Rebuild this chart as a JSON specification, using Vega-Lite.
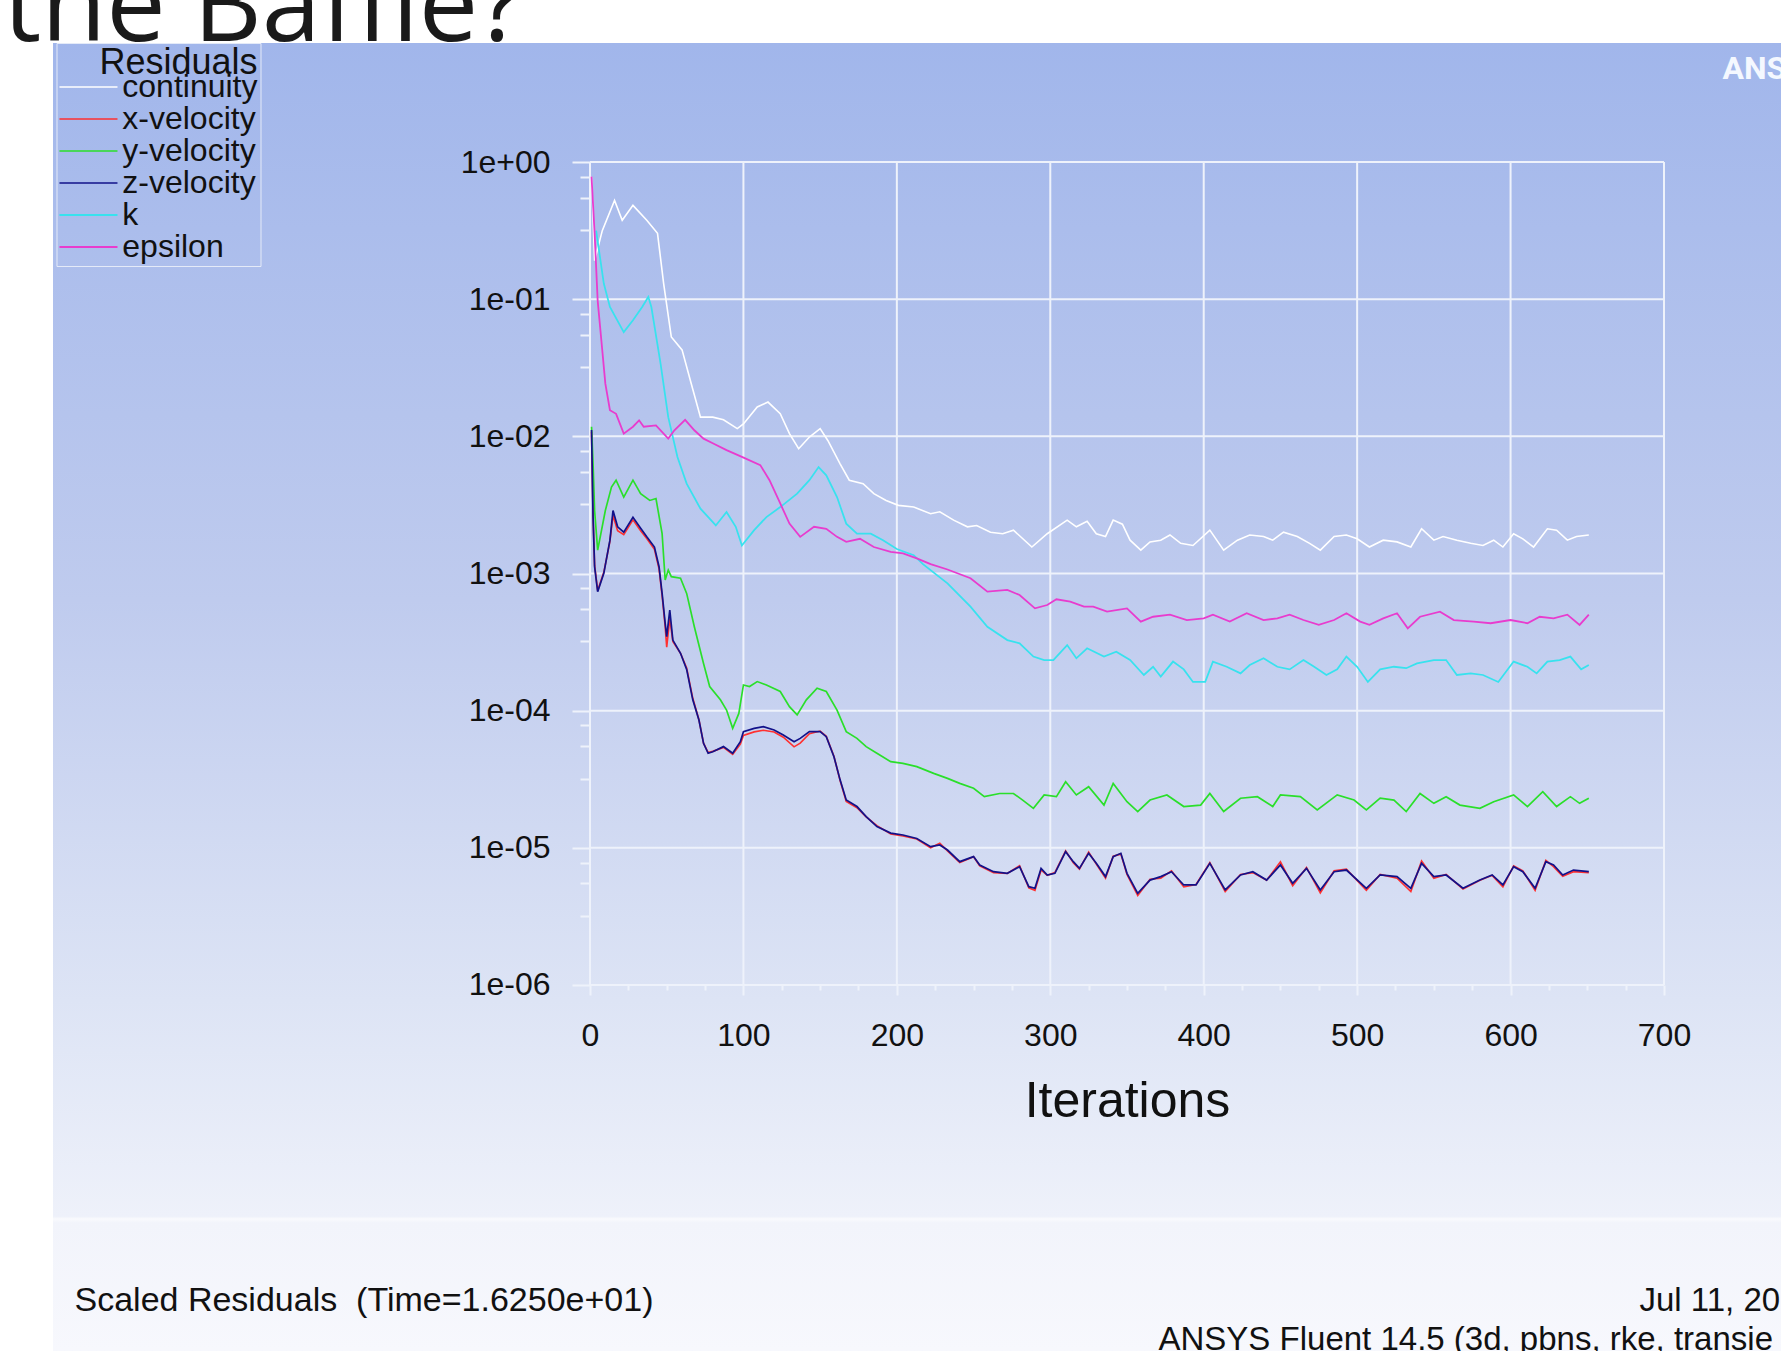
{
  "$schema": "https://vega.github.io/schema/vega-lite/v6.json",
  "autosize": {"type": "none"},
  "padding": {"left": 53, "top": 43, "right": 0, "bottom": 0},
  "width": 1728,
  "height": 1308,
  "background": "#ffffff",
  "view": {
    "stroke": null,
    "fill": {
      "gradient": "linear", "x1": 0, "y1": 0, "x2": 0, "y2": 1,
      "stops": [
        {"offset": 0, "color": "#a1b6eb"},
        {"offset": 0.426, "color": "#bfcbee"},
        {"offset": 0.732, "color": "#dde4f5"},
        {"offset": 0.897, "color": "#eef1fa"},
        {"offset": 0.899, "color": "#f9fafd"},
        {"offset": 0.902, "color": "#f2f4fb"},
        {"offset": 1, "color": "#f7f8fd"}
      ]
    }
  },
  "config": {
    "view": {"stroke": null},
    "axis": {"labelFont": "Liberation Sans", "titleFont": "Liberation Sans", "grid": false, "domain": false}
  },
  "resolve": {"scale": {"x": "shared", "y": "shared"}, "axis": {"x": "independent", "y": "independent"}},
  "layer": [
    {
      "data": {"values": [{"g": 0}, {"g": 100}, {"g": 200}, {"g": 300}, {"g": 400}, {"g": 500}, {"g": 600}, {"g": 700}]},
      "mark": {"type": "rule", "color": "#eef2fb", "strokeWidth": 2},
      "encoding": {
        "x": {"field": "g", "type": "quantitative",
          "scale": {"domain": [-350, 776.26], "nice": false, "zero": false},
          "axis": {"orient": "bottom", "offset": -366, "title": null, "labels": false, "ticks": true, "tickSize": 5, "tickWidth": 2, "tickColor": "#eef2fb",
            "values": [25, 50, 75, 125, 150, 175, 225, 250, 275, 325, 350, 375, 425, 450, 475, 525, 550, 575, 625, 650, 675]}},
        "y": {"datum": 0.000001, "type": "quantitative", "scale": {"type": "log", "domain": [2.146e-9, 7.374], "nice": false, "zero": false}, "axis": null},
        "y2": {"datum": 1}
      }
    },
    {
      "data": {"values": [{"d": 1}, {"d": 0.1}, {"d": 0.01}, {"d": 0.001}, {"d": 0.0001}, {"d": 0.00001}, {"d": 0.000001}]},
      "mark": {"type": "rule", "color": "#eef2fb", "strokeWidth": 2},
      "encoding": {
        "y": {"field": "d", "type": "quantitative",
          "scale": {"type": "log", "domain": [2.146e-9, 7.374], "nice": false, "zero": false},
          "axis": {"orient": "left", "offset": -537, "title": null, "labels": false, "ticks": true, "tickSize": 10, "tickWidth": 2, "tickColor": "#eef2fb",
            "values": [0.78, 0.55, 0.32, 0.078, 0.055, 0.032, 0.0078, 0.0055, 0.0032, 0.00078, 0.00055, 0.00032, 0.000078, 0.000055, 0.000032, 0.0000078, 0.0000055, 0.0000032]}},
        "x": {"datum": 0, "type": "quantitative", "axis": null},
        "x2": {"datum": 700}
      }
    },
    {
      "data": {"values": [
        {"series": "continuity", "iter": 1, "res": 0.782}, {"series": "continuity", "iter": 3, "res": 0.191}, {"series": "continuity", "iter": 8, "res": 0.316},
        {"series": "continuity", "iter": 16, "res": 0.525}, {"series": "continuity", "iter": 21, "res": 0.376}, {"series": "continuity", "iter": 28, "res": 0.483},
        {"series": "continuity", "iter": 37, "res": 0.376}, {"series": "continuity", "iter": 44, "res": 0.302}, {"series": "continuity", "iter": 48, "res": 0.130},
        {"series": "continuity", "iter": 53, "res": 0.053}, {"series": "continuity", "iter": 60, "res": 0.0427}, {"series": "continuity", "iter": 66, "res": 0.0242},
        {"series": "continuity", "iter": 72, "res": 0.0138}, {"series": "continuity", "iter": 80, "res": 0.0138}, {"series": "continuity", "iter": 87, "res": 0.0132},
        {"series": "continuity", "iter": 96, "res": 0.01138}, {"series": "continuity", "iter": 100, "res": 0.0123}, {"series": "continuity", "iter": 109, "res": 0.01637},
        {"series": "continuity", "iter": 116, "res": 0.01778}, {"series": "continuity", "iter": 124, "res": 0.01462}, {"series": "continuity", "iter": 130, "res": 0.01047},
        {"series": "continuity", "iter": 136, "res": 0.00813}, {"series": "continuity", "iter": 143, "res": 0.00989}, {"series": "continuity", "iter": 150, "res": 0.01138},
        {"series": "continuity", "iter": 155, "res": 0.00933}, {"series": "continuity", "iter": 163, "res": 0.00631}, {"series": "continuity", "iter": 169, "res": 0.00479},
        {"series": "continuity", "iter": 178, "res": 0.00452}, {"series": "continuity", "iter": 185, "res": 0.00382}, {"series": "continuity", "iter": 193, "res": 0.00341},
        {"series": "continuity", "iter": 201, "res": 0.00314}, {"series": "continuity", "iter": 211, "res": 0.00305}, {"series": "continuity", "iter": 222, "res": 0.00273},
        {"series": "continuity", "iter": 228, "res": 0.00282}, {"series": "continuity", "iter": 237, "res": 0.00245}, {"series": "continuity", "iter": 246, "res": 0.00219},
        {"series": "continuity", "iter": 252, "res": 0.00224}, {"series": "continuity", "iter": 261, "res": 0.002}, {"series": "continuity", "iter": 269, "res": 0.00195},
        {"series": "continuity", "iter": 276, "res": 0.00207}, {"series": "continuity", "iter": 288, "res": 0.00156}, {"series": "continuity", "iter": 298, "res": 0.00195},
        {"series": "continuity", "iter": 311, "res": 0.00245}, {"series": "continuity", "iter": 317, "res": 0.00219}, {"series": "continuity", "iter": 324, "res": 0.0024},
        {"series": "continuity", "iter": 330, "res": 0.00195}, {"series": "continuity", "iter": 336, "res": 0.00186}, {"series": "continuity", "iter": 341, "res": 0.00245},
        {"series": "continuity", "iter": 347, "res": 0.00229}, {"series": "continuity", "iter": 352, "res": 0.00175}, {"series": "continuity", "iter": 359, "res": 0.00148},
        {"series": "continuity", "iter": 365, "res": 0.0017}, {"series": "continuity", "iter": 372, "res": 0.00175}, {"series": "continuity", "iter": 378, "res": 0.00191},
        {"series": "continuity", "iter": 385, "res": 0.00166}, {"series": "continuity", "iter": 393, "res": 0.0016}, {"series": "continuity", "iter": 404, "res": 0.00207},
        {"series": "continuity", "iter": 413, "res": 0.00148}, {"series": "continuity", "iter": 422, "res": 0.00175}, {"series": "continuity", "iter": 430, "res": 0.00191},
        {"series": "continuity", "iter": 439, "res": 0.00186}, {"series": "continuity", "iter": 445, "res": 0.00175}, {"series": "continuity", "iter": 452, "res": 0.002},
        {"series": "continuity", "iter": 461, "res": 0.00186}, {"series": "continuity", "iter": 469, "res": 0.00166}, {"series": "continuity", "iter": 476, "res": 0.00148},
        {"series": "continuity", "iter": 485, "res": 0.00186}, {"series": "continuity", "iter": 493, "res": 0.00191}, {"series": "continuity", "iter": 500, "res": 0.00179},
        {"series": "continuity", "iter": 508, "res": 0.00156}, {"series": "continuity", "iter": 517, "res": 0.00175}, {"series": "continuity", "iter": 526, "res": 0.0017},
        {"series": "continuity", "iter": 535, "res": 0.00156}, {"series": "continuity", "iter": 542, "res": 0.00212}, {"series": "continuity", "iter": 550, "res": 0.00175},
        {"series": "continuity", "iter": 556, "res": 0.00186}, {"series": "continuity", "iter": 565, "res": 0.00175}, {"series": "continuity", "iter": 574, "res": 0.00166},
        {"series": "continuity", "iter": 582, "res": 0.0016}, {"series": "continuity", "iter": 589, "res": 0.00175}, {"series": "continuity", "iter": 595, "res": 0.00156},
        {"series": "continuity", "iter": 602, "res": 0.00195}, {"series": "continuity", "iter": 608, "res": 0.00179}, {"series": "continuity", "iter": 615, "res": 0.00156},
        {"series": "continuity", "iter": 624, "res": 0.00212}, {"series": "continuity", "iter": 630, "res": 0.00207}, {"series": "continuity", "iter": 637, "res": 0.00175},
        {"series": "continuity", "iter": 643, "res": 0.00186}, {"series": "continuity", "iter": 651, "res": 0.00191},

        {"series": "x-velocity", "iter": 1, "res": 0.0108}, {"series": "x-velocity", "iter": 2, "res": 0.00262}, {"series": "x-velocity", "iter": 3, "res": 0.00115},
        {"series": "x-velocity", "iter": 5, "res": 0.000752}, {"series": "x-velocity", "iter": 9, "res": 0.00102}, {"series": "x-velocity", "iter": 13, "res": 0.00172},
        {"series": "x-velocity", "iter": 15, "res": 0.00265}, {"series": "x-velocity", "iter": 18, "res": 0.00205}, {"series": "x-velocity", "iter": 22, "res": 0.00192},
        {"series": "x-velocity", "iter": 28, "res": 0.00246}, {"series": "x-velocity", "iter": 33, "res": 0.00205}, {"series": "x-velocity", "iter": 37, "res": 0.0018},
        {"series": "x-velocity", "iter": 42, "res": 0.0015}, {"series": "x-velocity", "iter": 45, "res": 0.00108}, {"series": "x-velocity", "iter": 47, "res": 0.00069},
        {"series": "x-velocity", "iter": 49, "res": 0.00041}, {"series": "x-velocity", "iter": 50, "res": 0.00029}, {"series": "x-velocity", "iter": 52, "res": 0.00047},
        {"series": "x-velocity", "iter": 54, "res": 0.00032}, {"series": "x-velocity", "iter": 59, "res": 0.000262}, {"series": "x-velocity", "iter": 63, "res": 0.000205},
        {"series": "x-velocity", "iter": 67, "res": 0.000123}, {"series": "x-velocity", "iter": 71, "res": 0.000086}, {"series": "x-velocity", "iter": 74, "res": 0.000058},
        {"series": "x-velocity", "iter": 77, "res": 0.0000495}, {"series": "x-velocity", "iter": 80, "res": 0.0000505}, {"series": "x-velocity", "iter": 87, "res": 0.000054},
        {"series": "x-velocity", "iter": 93, "res": 0.000048}, {"series": "x-velocity", "iter": 98, "res": 0.000057}, {"series": "x-velocity", "iter": 100, "res": 0.000066},
        {"series": "x-velocity", "iter": 107, "res": 0.00007}, {"series": "x-velocity", "iter": 113, "res": 0.000072}, {"series": "x-velocity", "iter": 120, "res": 0.00007},
        {"series": "x-velocity", "iter": 126, "res": 0.000064}, {"series": "x-velocity", "iter": 133, "res": 0.0000545}, {"series": "x-velocity", "iter": 137, "res": 0.000058},
        {"series": "x-velocity", "iter": 143, "res": 0.000068}, {"series": "x-velocity", "iter": 150, "res": 0.000071}, {"series": "x-velocity", "iter": 154, "res": 0.000065},
        {"series": "x-velocity", "iter": 159, "res": 0.0000465}, {"series": "x-velocity", "iter": 163, "res": 0.000031}, {"series": "x-velocity", "iter": 167, "res": 0.0000218},
        {"series": "x-velocity", "iter": 174, "res": 0.0000196}, {"series": "x-velocity", "iter": 180, "res": 0.0000168}, {"series": "x-velocity", "iter": 187, "res": 0.0000145},
        {"series": "x-velocity", "iter": 196, "res": 0.0000126}, {"series": "x-velocity", "iter": 204, "res": 0.0000122}, {"series": "x-velocity", "iter": 213, "res": 0.0000116},
        {"series": "x-velocity", "iter": 222, "res": 0.00001}, {"series": "x-velocity", "iter": 228, "res": 0.0000108}, {"series": "x-velocity", "iter": 233, "res": 0.0000095},
        {"series": "x-velocity", "iter": 241, "res": 0.0000078}, {"series": "x-velocity", "iter": 250, "res": 0.0000086}, {"series": "x-velocity", "iter": 254, "res": 0.0000074},
        {"series": "x-velocity", "iter": 263, "res": 0.0000066}, {"series": "x-velocity", "iter": 272, "res": 0.0000065}, {"series": "x-velocity", "iter": 280, "res": 0.0000074},
        {"series": "x-velocity", "iter": 286, "res": 0.0000051}, {"series": "x-velocity", "iter": 290, "res": 0.0000049}, {"series": "x-velocity", "iter": 294, "res": 0.0000069},
        {"series": "x-velocity", "iter": 298, "res": 0.0000063}, {"series": "x-velocity", "iter": 303, "res": 0.0000066}, {"series": "x-velocity", "iter": 310, "res": 0.0000095},
        {"series": "x-velocity", "iter": 315, "res": 0.0000078}, {"series": "x-velocity", "iter": 319, "res": 0.000007}, {"series": "x-velocity", "iter": 325, "res": 0.0000093},
        {"series": "x-velocity", "iter": 330, "res": 0.0000076}, {"series": "x-velocity", "iter": 336, "res": 0.000006}, {"series": "x-velocity", "iter": 341, "res": 0.0000087},
        {"series": "x-velocity", "iter": 346, "res": 0.000009}, {"series": "x-velocity", "iter": 350, "res": 0.0000064}, {"series": "x-velocity", "iter": 357, "res": 0.0000045},
        {"series": "x-velocity", "iter": 365, "res": 0.0000059}, {"series": "x-velocity", "iter": 372, "res": 0.000006}, {"series": "x-velocity", "iter": 379, "res": 0.0000068},
        {"series": "x-velocity", "iter": 387, "res": 0.0000052}, {"series": "x-velocity", "iter": 395, "res": 0.0000054}, {"series": "x-velocity", "iter": 404, "res": 0.0000078},
        {"series": "x-velocity", "iter": 414, "res": 0.0000048}, {"series": "x-velocity", "iter": 424, "res": 0.0000064}, {"series": "x-velocity", "iter": 432, "res": 0.0000066},
        {"series": "x-velocity", "iter": 441, "res": 0.0000058}, {"series": "x-velocity", "iter": 450, "res": 0.0000079}, {"series": "x-velocity", "iter": 458, "res": 0.0000053},
        {"series": "x-velocity", "iter": 467, "res": 0.0000072}, {"series": "x-velocity", "iter": 476, "res": 0.0000047}, {"series": "x-velocity", "iter": 485, "res": 0.0000068},
        {"series": "x-velocity", "iter": 493, "res": 0.000007}, {"series": "x-velocity", "iter": 506, "res": 0.0000049}, {"series": "x-velocity", "iter": 515, "res": 0.0000064},
        {"series": "x-velocity", "iter": 526, "res": 0.000006}, {"series": "x-velocity", "iter": 535, "res": 0.0000048}, {"series": "x-velocity", "iter": 542, "res": 0.000008},
        {"series": "x-velocity", "iter": 550, "res": 0.000006}, {"series": "x-velocity", "iter": 558, "res": 0.0000064}, {"series": "x-velocity", "iter": 569, "res": 0.000005},
        {"series": "x-velocity", "iter": 580, "res": 0.0000058}, {"series": "x-velocity", "iter": 588, "res": 0.0000063}, {"series": "x-velocity", "iter": 595, "res": 0.0000052},
        {"series": "x-velocity", "iter": 602, "res": 0.0000074}, {"series": "x-velocity", "iter": 608, "res": 0.0000068}, {"series": "x-velocity", "iter": 616, "res": 0.0000049},
        {"series": "x-velocity", "iter": 623, "res": 0.0000081}, {"series": "x-velocity", "iter": 628, "res": 0.0000073}, {"series": "x-velocity", "iter": 634, "res": 0.0000062},
        {"series": "x-velocity", "iter": 641, "res": 0.0000067}, {"series": "x-velocity", "iter": 651, "res": 0.0000066},

        {"series": "y-velocity", "iter": 1, "res": 0.01175}, {"series": "y-velocity", "iter": 2, "res": 0.00631}, {"series": "y-velocity", "iter": 3, "res": 0.00288},
        {"series": "y-velocity", "iter": 5, "res": 0.00148}, {"series": "y-velocity", "iter": 10, "res": 0.00288}, {"series": "y-velocity", "iter": 14, "res": 0.00427},
        {"series": "y-velocity", "iter": 17, "res": 0.00479}, {"series": "y-velocity", "iter": 22, "res": 0.00361}, {"series": "y-velocity", "iter": 28, "res": 0.00479},
        {"series": "y-velocity", "iter": 33, "res": 0.00382}, {"series": "y-velocity", "iter": 39, "res": 0.00341}, {"series": "y-velocity", "iter": 43, "res": 0.00352},
        {"series": "y-velocity", "iter": 47, "res": 0.00195}, {"series": "y-velocity", "iter": 49, "res": 0.000897}, {"series": "y-velocity", "iter": 51, "res": 0.00106},
        {"series": "y-velocity", "iter": 53, "res": 0.000948}, {"series": "y-velocity", "iter": 59, "res": 0.000923}, {"series": "y-velocity", "iter": 63, "res": 0.000716},
        {"series": "y-velocity", "iter": 68, "res": 0.000409}, {"series": "y-velocity", "iter": 74, "res": 0.000221}, {"series": "y-velocity", "iter": 78, "res": 0.00015},
        {"series": "y-velocity", "iter": 85, "res": 0.00012}, {"series": "y-velocity", "iter": 89, "res": 0.000101}, {"series": "y-velocity", "iter": 93, "res": 0.0000743},
        {"series": "y-velocity", "iter": 97, "res": 0.0000955}, {"series": "y-velocity", "iter": 100, "res": 0.000154}, {"series": "y-velocity", "iter": 104, "res": 0.00015},
        {"series": "y-velocity", "iter": 109, "res": 0.000163}, {"series": "y-velocity", "iter": 115, "res": 0.000154}, {"series": "y-velocity", "iter": 124, "res": 0.000138},
        {"series": "y-velocity", "iter": 130, "res": 0.000107}, {"series": "y-velocity", "iter": 135, "res": 0.0000931}, {"series": "y-velocity", "iter": 141, "res": 0.00012},
        {"series": "y-velocity", "iter": 148, "res": 0.000146}, {"series": "y-velocity", "iter": 154, "res": 0.000138}, {"series": "y-velocity", "iter": 161, "res": 0.000101},
        {"series": "y-velocity", "iter": 167, "res": 0.0000703}, {"series": "y-velocity", "iter": 174, "res": 0.0000628}, {"series": "y-velocity", "iter": 180, "res": 0.0000547},
        {"series": "y-velocity", "iter": 187, "res": 0.0000489}, {"series": "y-velocity", "iter": 196, "res": 0.0000425}, {"series": "y-velocity", "iter": 204, "res": 0.0000413},
        {"series": "y-velocity", "iter": 213, "res": 0.0000391}, {"series": "y-velocity", "iter": 224, "res": 0.0000349}, {"series": "y-velocity", "iter": 233, "res": 0.0000321},
        {"series": "y-velocity", "iter": 241, "res": 0.0000295}, {"series": "y-velocity", "iter": 250, "res": 0.0000272}, {"series": "y-velocity", "iter": 257, "res": 0.0000236},
        {"series": "y-velocity", "iter": 267, "res": 0.0000249}, {"series": "y-velocity", "iter": 276, "res": 0.0000249}, {"series": "y-velocity", "iter": 282, "res": 0.0000223},
        {"series": "y-velocity", "iter": 289, "res": 0.0000194}, {"series": "y-velocity", "iter": 296, "res": 0.0000243}, {"series": "y-velocity", "iter": 304, "res": 0.0000236},
        {"series": "y-velocity", "iter": 310, "res": 0.0000303}, {"series": "y-velocity", "iter": 317, "res": 0.0000243}, {"series": "y-velocity", "iter": 325, "res": 0.0000279},
        {"series": "y-velocity", "iter": 335, "res": 0.0000205}, {"series": "y-velocity", "iter": 341, "res": 0.0000295}, {"series": "y-velocity", "iter": 350, "res": 0.0000217},
        {"series": "y-velocity", "iter": 357, "res": 0.0000184}, {"series": "y-velocity", "iter": 365, "res": 0.0000223}, {"series": "y-velocity", "iter": 376, "res": 0.0000243},
        {"series": "y-velocity", "iter": 387, "res": 0.00002}, {"series": "y-velocity", "iter": 398, "res": 0.0000205}, {"series": "y-velocity", "iter": 404, "res": 0.0000249},
        {"series": "y-velocity", "iter": 413, "res": 0.0000184}, {"series": "y-velocity", "iter": 424, "res": 0.000023}, {"series": "y-velocity", "iter": 435, "res": 0.0000236},
        {"series": "y-velocity", "iter": 445, "res": 0.00002}, {"series": "y-velocity", "iter": 450, "res": 0.0000243}, {"series": "y-velocity", "iter": 463, "res": 0.0000236},
        {"series": "y-velocity", "iter": 474, "res": 0.0000189}, {"series": "y-velocity", "iter": 487, "res": 0.0000243}, {"series": "y-velocity", "iter": 498, "res": 0.0000223},
        {"series": "y-velocity", "iter": 506, "res": 0.0000189}, {"series": "y-velocity", "iter": 515, "res": 0.000023}, {"series": "y-velocity", "iter": 524, "res": 0.0000223},
        {"series": "y-velocity", "iter": 532, "res": 0.0000184}, {"series": "y-velocity", "iter": 541, "res": 0.0000249}, {"series": "y-velocity", "iter": 550, "res": 0.0000211},
        {"series": "y-velocity", "iter": 558, "res": 0.0000236}, {"series": "y-velocity", "iter": 567, "res": 0.0000205}, {"series": "y-velocity", "iter": 580, "res": 0.0000194},
        {"series": "y-velocity", "iter": 589, "res": 0.0000217}, {"series": "y-velocity", "iter": 602, "res": 0.0000243}, {"series": "y-velocity", "iter": 611, "res": 0.00002},
        {"series": "y-velocity", "iter": 621, "res": 0.0000257}, {"series": "y-velocity", "iter": 630, "res": 0.00002}, {"series": "y-velocity", "iter": 639, "res": 0.0000236},
        {"series": "y-velocity", "iter": 645, "res": 0.0000211}, {"series": "y-velocity", "iter": 651, "res": 0.000023},

        {"series": "z-velocity", "iter": 1, "res": 0.01112}, {"series": "z-velocity", "iter": 2, "res": 0.00257}, {"series": "z-velocity", "iter": 3, "res": 0.00112},
        {"series": "z-velocity", "iter": 5, "res": 0.000736}, {"series": "z-velocity", "iter": 9, "res": 0.001002}, {"series": "z-velocity", "iter": 13, "res": 0.00175},
        {"series": "z-velocity", "iter": 15, "res": 0.00288}, {"series": "z-velocity", "iter": 18, "res": 0.00219}, {"series": "z-velocity", "iter": 22, "res": 0.002},
        {"series": "z-velocity", "iter": 28, "res": 0.00257}, {"series": "z-velocity", "iter": 33, "res": 0.00214}, {"series": "z-velocity", "iter": 37, "res": 0.00185},
        {"series": "z-velocity", "iter": 42, "res": 0.00156}, {"series": "z-velocity", "iter": 45, "res": 0.00112}, {"series": "z-velocity", "iter": 47, "res": 0.000716},
        {"series": "z-velocity", "iter": 49, "res": 0.000434}, {"series": "z-velocity", "iter": 50, "res": 0.000347}, {"series": "z-velocity", "iter": 52, "res": 0.000542},
        {"series": "z-velocity", "iter": 54, "res": 0.000327}, {"series": "z-velocity", "iter": 59, "res": 0.000262}, {"series": "z-velocity", "iter": 63, "res": 0.0002},
        {"series": "z-velocity", "iter": 67, "res": 0.00012}, {"series": "z-velocity", "iter": 71, "res": 0.0000855}, {"series": "z-velocity", "iter": 74, "res": 0.0000578},
        {"series": "z-velocity", "iter": 77, "res": 0.0000489}, {"series": "z-velocity", "iter": 80, "res": 0.0000502}, {"series": "z-velocity", "iter": 87, "res": 0.0000547},
        {"series": "z-velocity", "iter": 93, "res": 0.0000489}, {"series": "z-velocity", "iter": 98, "res": 0.0000594}, {"series": "z-velocity", "iter": 100, "res": 0.0000703},
        {"series": "z-velocity", "iter": 107, "res": 0.0000743}, {"series": "z-velocity", "iter": 113, "res": 0.0000764}, {"series": "z-velocity", "iter": 120, "res": 0.0000723},
        {"series": "z-velocity", "iter": 126, "res": 0.0000664}, {"series": "z-velocity", "iter": 133, "res": 0.0000594}, {"series": "z-velocity", "iter": 137, "res": 0.0000628},
        {"series": "z-velocity", "iter": 143, "res": 0.0000703}, {"series": "z-velocity", "iter": 150, "res": 0.0000703}, {"series": "z-velocity", "iter": 154, "res": 0.0000646},
        {"series": "z-velocity", "iter": 159, "res": 0.0000462}, {"series": "z-velocity", "iter": 163, "res": 0.0000313}, {"series": "z-velocity", "iter": 167, "res": 0.0000223},
        {"series": "z-velocity", "iter": 174, "res": 0.00002}, {"series": "z-velocity", "iter": 180, "res": 0.0000169}, {"series": "z-velocity", "iter": 187, "res": 0.0000143},
        {"series": "z-velocity", "iter": 196, "res": 0.0000128}, {"series": "z-velocity", "iter": 204, "res": 0.0000124}, {"series": "z-velocity", "iter": 213, "res": 0.0000117},
        {"series": "z-velocity", "iter": 222, "res": 0.0000102}, {"series": "z-velocity", "iter": 228, "res": 0.0000105}, {"series": "z-velocity", "iter": 233, "res": 0.00000964},
        {"series": "z-velocity", "iter": 241, "res": 0.00000793}, {"series": "z-velocity", "iter": 250, "res": 0.00000863}, {"series": "z-velocity", "iter": 254, "res": 0.0000075},
        {"series": "z-velocity", "iter": 263, "res": 0.0000067}, {"series": "z-velocity", "iter": 272, "res": 0.00000652}, {"series": "z-velocity", "iter": 280, "res": 0.00000729},
        {"series": "z-velocity", "iter": 286, "res": 0.00000521}, {"series": "z-velocity", "iter": 290, "res": 0.00000507}, {"series": "z-velocity", "iter": 294, "res": 0.00000708},
        {"series": "z-velocity", "iter": 298, "res": 0.00000634}, {"series": "z-velocity", "iter": 303, "res": 0.00000652}, {"series": "z-velocity", "iter": 310, "res": 0.00000938},
        {"series": "z-velocity", "iter": 315, "res": 0.00000793}, {"series": "z-velocity", "iter": 319, "res": 0.00000708}, {"series": "z-velocity", "iter": 325, "res": 0.00000912},
        {"series": "z-velocity", "iter": 330, "res": 0.00000771}, {"series": "z-velocity", "iter": 336, "res": 0.00000617}, {"series": "z-velocity", "iter": 341, "res": 0.00000863},
        {"series": "z-velocity", "iter": 346, "res": 0.00000912}, {"series": "z-velocity", "iter": 350, "res": 0.00000652}, {"series": "z-velocity", "iter": 357, "res": 0.00000466},
        {"series": "z-velocity", "iter": 365, "res": 0.00000582}, {"series": "z-velocity", "iter": 372, "res": 0.00000617}, {"series": "z-velocity", "iter": 379, "res": 0.0000067},
        {"series": "z-velocity", "iter": 387, "res": 0.00000536}, {"series": "z-velocity", "iter": 395, "res": 0.00000536}, {"series": "z-velocity", "iter": 404, "res": 0.00000771},
        {"series": "z-velocity", "iter": 414, "res": 0.00000493}, {"series": "z-velocity", "iter": 424, "res": 0.00000634}, {"series": "z-velocity", "iter": 432, "res": 0.0000067},
        {"series": "z-velocity", "iter": 441, "res": 0.00000582}, {"series": "z-velocity", "iter": 450, "res": 0.0000075}, {"series": "z-velocity", "iter": 458, "res": 0.00000551},
        {"series": "z-velocity", "iter": 467, "res": 0.00000708}, {"series": "z-velocity", "iter": 476, "res": 0.00000493}, {"series": "z-velocity", "iter": 485, "res": 0.0000067},
        {"series": "z-velocity", "iter": 493, "res": 0.00000689}, {"series": "z-velocity", "iter": 506, "res": 0.00000507}, {"series": "z-velocity", "iter": 515, "res": 0.00000634},
        {"series": "z-velocity", "iter": 526, "res": 0.00000617}, {"series": "z-velocity", "iter": 535, "res": 0.00000507}, {"series": "z-velocity", "iter": 542, "res": 0.00000771},
        {"series": "z-velocity", "iter": 550, "res": 0.00000617}, {"series": "z-velocity", "iter": 558, "res": 0.00000634}, {"series": "z-velocity", "iter": 569, "res": 0.00000507},
        {"series": "z-velocity", "iter": 580, "res": 0.00000582}, {"series": "z-velocity", "iter": 588, "res": 0.00000634}, {"series": "z-velocity", "iter": 595, "res": 0.00000536},
        {"series": "z-velocity", "iter": 602, "res": 0.00000729}, {"series": "z-velocity", "iter": 608, "res": 0.0000067}, {"series": "z-velocity", "iter": 616, "res": 0.00000507},
        {"series": "z-velocity", "iter": 623, "res": 0.00000793}, {"series": "z-velocity", "iter": 628, "res": 0.0000075}, {"series": "z-velocity", "iter": 634, "res": 0.00000634},
        {"series": "z-velocity", "iter": 641, "res": 0.00000689}, {"series": "z-velocity", "iter": 651, "res": 0.0000067},

        {"series": "k", "iter": 4, "res": 0.316}, {"series": "k", "iter": 9, "res": 0.13}, {"series": "k", "iter": 13, "res": 0.0877},
        {"series": "k", "iter": 22, "res": 0.0575}, {"series": "k", "iter": 28, "res": 0.0702}, {"series": "k", "iter": 34, "res": 0.0877},
        {"series": "k", "iter": 38, "res": 0.1038}, {"series": "k", "iter": 40, "res": 0.0877}, {"series": "k", "iter": 46, "res": 0.0339},
        {"series": "k", "iter": 51, "res": 0.0138}, {"series": "k", "iter": 57, "res": 0.00708}, {"series": "k", "iter": 63, "res": 0.00452},
        {"series": "k", "iter": 72, "res": 0.00297}, {"series": "k", "iter": 82, "res": 0.00224}, {"series": "k", "iter": 89, "res": 0.00281},
        {"series": "k", "iter": 95, "res": 0.00219}, {"series": "k", "iter": 99, "res": 0.0016}, {"series": "k", "iter": 107, "res": 0.00207},
        {"series": "k", "iter": 115, "res": 0.00258}, {"series": "k", "iter": 124, "res": 0.00305}, {"series": "k", "iter": 135, "res": 0.00382},
        {"series": "k", "iter": 143, "res": 0.00479}, {"series": "k", "iter": 149, "res": 0.00597}, {"series": "k", "iter": 154, "res": 0.0052},
        {"series": "k", "iter": 161, "res": 0.00361}, {"series": "k", "iter": 167, "res": 0.00231}, {"series": "k", "iter": 174, "res": 0.00195},
        {"series": "k", "iter": 183, "res": 0.00195}, {"series": "k", "iter": 191, "res": 0.00175}, {"series": "k", "iter": 200, "res": 0.00151},
        {"series": "k", "iter": 211, "res": 0.00136}, {"series": "k", "iter": 217, "res": 0.00117}, {"series": "k", "iter": 233, "res": 0.000847},
        {"series": "k", "iter": 248, "res": 0.000573}, {"series": "k", "iter": 259, "res": 0.000409}, {"series": "k", "iter": 272, "res": 0.000327},
        {"series": "k", "iter": 280, "res": 0.00031}, {"series": "k", "iter": 289, "res": 0.000248}, {"series": "k", "iter": 296, "res": 0.000234},
        {"series": "k", "iter": 302, "res": 0.000234}, {"series": "k", "iter": 311, "res": 0.000301}, {"series": "k", "iter": 317, "res": 0.000241},
        {"series": "k", "iter": 324, "res": 0.000285}, {"series": "k", "iter": 335, "res": 0.000248}, {"series": "k", "iter": 343, "res": 0.000269},
        {"series": "k", "iter": 352, "res": 0.000234}, {"series": "k", "iter": 361, "res": 0.000182}, {"series": "k", "iter": 367, "res": 0.000209},
        {"series": "k", "iter": 372, "res": 0.000177}, {"series": "k", "iter": 380, "res": 0.000228}, {"series": "k", "iter": 387, "res": 0.0002},
        {"series": "k", "iter": 393, "res": 0.000162}, {"series": "k", "iter": 401, "res": 0.000162}, {"series": "k", "iter": 406, "res": 0.000228},
        {"series": "k", "iter": 415, "res": 0.000209}, {"series": "k", "iter": 424, "res": 0.000187}, {"series": "k", "iter": 430, "res": 0.000215},
        {"series": "k", "iter": 439, "res": 0.000241}, {"series": "k", "iter": 448, "res": 0.000209}, {"series": "k", "iter": 456, "res": 0.0002},
        {"series": "k", "iter": 465, "res": 0.000234}, {"series": "k", "iter": 472, "res": 0.000209}, {"series": "k", "iter": 480, "res": 0.000182},
        {"series": "k", "iter": 487, "res": 0.0002}, {"series": "k", "iter": 493, "res": 0.000248}, {"series": "k", "iter": 500, "res": 0.000209},
        {"series": "k", "iter": 507, "res": 0.000162}, {"series": "k", "iter": 515, "res": 0.0002}, {"series": "k", "iter": 524, "res": 0.000209},
        {"series": "k", "iter": 532, "res": 0.000204}, {"series": "k", "iter": 539, "res": 0.000221}, {"series": "k", "iter": 550, "res": 0.000234},
        {"series": "k", "iter": 558, "res": 0.000234}, {"series": "k", "iter": 565, "res": 0.000182}, {"series": "k", "iter": 574, "res": 0.000187},
        {"series": "k", "iter": 582, "res": 0.000182}, {"series": "k", "iter": 592, "res": 0.000162}, {"series": "k", "iter": 602, "res": 0.000228},
        {"series": "k", "iter": 611, "res": 0.000209}, {"series": "k", "iter": 617, "res": 0.000187}, {"series": "k", "iter": 624, "res": 0.000228},
        {"series": "k", "iter": 632, "res": 0.000234}, {"series": "k", "iter": 639, "res": 0.000248}, {"series": "k", "iter": 646, "res": 0.0002},
        {"series": "k", "iter": 651, "res": 0.000215},

        {"series": "epsilon", "iter": 1, "res": 0.782}, {"series": "epsilon", "iter": 3, "res": 0.302}, {"series": "epsilon", "iter": 5, "res": 0.0977},
        {"series": "epsilon", "iter": 8, "res": 0.0424}, {"series": "epsilon", "iter": 10, "res": 0.0242}, {"series": "epsilon", "iter": 13, "res": 0.0155},
        {"series": "epsilon", "iter": 17, "res": 0.0146}, {"series": "epsilon", "iter": 22, "res": 0.01047}, {"series": "epsilon", "iter": 28, "res": 0.01175},
        {"series": "epsilon", "iter": 32, "res": 0.01309}, {"series": "epsilon", "iter": 35, "res": 0.01175}, {"series": "epsilon", "iter": 43, "res": 0.01202},
        {"series": "epsilon", "iter": 51, "res": 0.00962}, {"series": "epsilon", "iter": 55, "res": 0.01107}, {"series": "epsilon", "iter": 62, "res": 0.01318},
        {"series": "epsilon", "iter": 68, "res": 0.01107}, {"series": "epsilon", "iter": 74, "res": 0.00962}, {"series": "epsilon", "iter": 80, "res": 0.00891},
        {"series": "epsilon", "iter": 89, "res": 0.00794}, {"series": "epsilon", "iter": 99, "res": 0.00708}, {"series": "epsilon", "iter": 111, "res": 0.00617},
        {"series": "epsilon", "iter": 117, "res": 0.00479}, {"series": "epsilon", "iter": 124, "res": 0.00324}, {"series": "epsilon", "iter": 130, "res": 0.00231},
        {"series": "epsilon", "iter": 137, "res": 0.00185}, {"series": "epsilon", "iter": 146, "res": 0.00219}, {"series": "epsilon", "iter": 154, "res": 0.00212},
        {"series": "epsilon", "iter": 161, "res": 0.00185}, {"series": "epsilon", "iter": 167, "res": 0.0017}, {"series": "epsilon", "iter": 176, "res": 0.00179},
        {"series": "epsilon", "iter": 185, "res": 0.00156}, {"series": "epsilon", "iter": 196, "res": 0.00144}, {"series": "epsilon", "iter": 204, "res": 0.0014},
        {"series": "epsilon", "iter": 213, "res": 0.00129}, {"series": "epsilon", "iter": 222, "res": 0.00117}, {"series": "epsilon", "iter": 233, "res": 0.00107},
        {"series": "epsilon", "iter": 248, "res": 0.000923}, {"series": "epsilon", "iter": 259, "res": 0.000738}, {"series": "epsilon", "iter": 272, "res": 0.000759},
        {"series": "epsilon", "iter": 280, "res": 0.000697}, {"series": "epsilon", "iter": 290, "res": 0.000557}, {"series": "epsilon", "iter": 298, "res": 0.000589},
        {"series": "epsilon", "iter": 304, "res": 0.000649}, {"series": "epsilon", "iter": 313, "res": 0.000624}, {"series": "epsilon", "iter": 322, "res": 0.000573},
        {"series": "epsilon", "iter": 328, "res": 0.000573}, {"series": "epsilon", "iter": 337, "res": 0.000527}, {"series": "epsilon", "iter": 350, "res": 0.000557},
        {"series": "epsilon", "iter": 359, "res": 0.000446}, {"series": "epsilon", "iter": 367, "res": 0.000484}, {"series": "epsilon", "iter": 378, "res": 0.000501},
        {"series": "epsilon", "iter": 389, "res": 0.000458}, {"series": "epsilon", "iter": 400, "res": 0.000471}, {"series": "epsilon", "iter": 406, "res": 0.000501},
        {"series": "epsilon", "iter": 417, "res": 0.000446}, {"series": "epsilon", "iter": 428, "res": 0.000513}, {"series": "epsilon", "iter": 439, "res": 0.000458},
        {"series": "epsilon", "iter": 448, "res": 0.000471}, {"series": "epsilon", "iter": 456, "res": 0.000501}, {"series": "epsilon", "iter": 465, "res": 0.000458},
        {"series": "epsilon", "iter": 475, "res": 0.000422}, {"series": "epsilon", "iter": 485, "res": 0.000458}, {"series": "epsilon", "iter": 493, "res": 0.000513},
        {"series": "epsilon", "iter": 502, "res": 0.000446}, {"series": "epsilon", "iter": 508, "res": 0.000422}, {"series": "epsilon", "iter": 517, "res": 0.000471},
        {"series": "epsilon", "iter": 526, "res": 0.000513}, {"series": "epsilon", "iter": 533, "res": 0.000398}, {"series": "epsilon", "iter": 541, "res": 0.000484},
        {"series": "epsilon", "iter": 554, "res": 0.000527}, {"series": "epsilon", "iter": 563, "res": 0.000458}, {"series": "epsilon", "iter": 576, "res": 0.000446},
        {"series": "epsilon", "iter": 587, "res": 0.000434}, {"series": "epsilon", "iter": 600, "res": 0.000458}, {"series": "epsilon", "iter": 611, "res": 0.000434},
        {"series": "epsilon", "iter": 619, "res": 0.000484}, {"series": "epsilon", "iter": 628, "res": 0.000471}, {"series": "epsilon", "iter": 637, "res": 0.000501},
        {"series": "epsilon", "iter": 645, "res": 0.000422}, {"series": "epsilon", "iter": 651, "res": 0.000501}
      ]},
      "mark": {"type": "line", "interpolate": "linear"},
      "encoding": {
        "x": {"field": "iter", "type": "quantitative",
          "scale": {"domain": [-350, 776.26], "nice": false, "zero": false},
          "axis": {"orient": "bottom", "offset": -366, "values": [0, 100, 200, 300, 400, 500, 600, 700], "format": "d",
            "ticks": true, "tickSize": 10, "tickWidth": 2, "tickColor": "#eef2fb",
            "labelFontSize": 32, "labelColor": "#111111", "labelPadding": 25, "labelFlush": false, "labelOverlap": false,
            "title": "Iterations", "titleFontSize": 50, "titleFontWeight": "normal", "titleColor": "#111111",
            "titleX": 1074, "titleY": 131, "titleAlign": "center", "titleBaseline": "alphabetic"}},
        "y": {"field": "res", "type": "quantitative",
          "scale": {"type": "log", "domain": [2.146e-9, 7.374], "nice": false, "zero": false},
          "axis": {"orient": "left", "offset": -537, "values": [1, 0.1, 0.01, 0.001, 0.0001, 0.00001, 0.000001],
            "labelExpr": "datum.value >= 1 ? '1e+00' : '1e-0' + format(-log(datum.value) / LN10, '.0f')",
            "ticks": true, "tickSize": 18, "tickWidth": 2, "tickColor": "#eef2fb",
            "labelFontSize": 32, "labelColor": "#111111", "labelPadding": 22, "labelFlush": false, "labelOverlap": false, "title": null}},
        "strokeWidth": {"field": "series", "type": "nominal",
          "scale": {"domain": ["continuity", "x-velocity", "y-velocity", "z-velocity", "k", "epsilon"], "range": [1.6, 1.8, 1.8, 2, 2.8, 2]},
          "legend": null},
        "color": {"field": "series", "type": "nominal",
          "scale": {"domain": ["continuity", "x-velocity", "y-velocity", "z-velocity", "k", "epsilon"],
            "range": ["#ffffff", "#ff3030", "#2adf2a", "#12128a", "#38e2ee", "#e83cce"]},
          "legend": {"orient": "none", "legendX": 3.5, "legendY": 0, "title": "Residuals",
            "titleFont": "Liberation Sans", "titleFontSize": 36, "titleFontWeight": "normal", "titleColor": "#111111",
            "titleAnchor": "end", "titlePadding": -11,
            "labelFont": "Liberation Sans", "labelFontSize": 32, "labelColor": "#111111", "labelOffset": 42, "labelLimit": 400,
            "symbolType": "M-1,0H11", "symbolSize": 93.5, "symbolStrokeWidth": 2, "symbolOffset": -11.2, "rowPadding": 0,
            "padding": 3, "strokeColor": "#e4eaf8", "fillColor": null}}
      }
    },
    {
      "data": {"values": []},
      "mark": "point",
      "encoding": {
        "x": {"field": "iter", "type": "quantitative", "scale": {"domain": [-350, 776.26], "nice": false, "zero": false},
          "axis": {"orient": "bottom", "offset": 0, "labels": false, "ticks": false, "domain": false,
            "title": "Scaled Residuals\u00a0 (Time=1.6250e+01)", "titleFontSize": 34, "titleFontWeight": "normal", "titleColor": "#111111",
            "titleX": 21, "titleY": -41, "titleAlign": "left", "titleBaseline": "alphabetic"}},
        "y": {"field": "res", "type": "quantitative", "scale": {"type": "log", "domain": [2.146e-9, 7.374], "nice": false, "zero": false},
          "axis": {"orient": "left", "offset": 0, "labels": false, "ticks": false, "domain": false,
            "title": "the Baffle?", "titleFont": "Open Sans", "titleFontSize": 106, "titleFontWeight": "normal", "titleColor": "#1a1a1a",
            "titleAngle": 0, "titleX": -50, "titleY": -3, "titleAlign": "left", "titleBaseline": "alphabetic"}}
      }
    },
    {
      "data": {"values": []},
      "mark": "point",
      "encoding": {
        "x": {"field": "iter", "type": "quantitative", "scale": {"domain": [-350, 776.26], "nice": false, "zero": false},
          "axis": {"orient": "bottom", "offset": 0, "labels": false, "ticks": false, "domain": false,
            "title": "Jul 11, 20", "titleFontSize": 33, "titleFontWeight": "normal", "titleColor": "#111111",
            "titleX": 1586, "titleY": -41, "titleAlign": "left", "titleBaseline": "alphabetic"}},
        "y": {"field": "res", "type": "quantitative", "scale": {"type": "log", "domain": [2.146e-9, 7.374], "nice": false, "zero": false},
          "axis": {"orient": "left", "offset": 0, "labels": false, "ticks": false, "domain": false,
            "title": "ANSYS", "titleFont": "Roboto", "titleFontSize": 32, "titleFontWeight": "bold", "titleColor": "#f4f8ff",
            "titleAngle": 0, "titleX": 1669, "titleY": 35, "titleAlign": "left", "titleBaseline": "alphabetic"}}
      }
    },
    {
      "data": {"values": []},
      "mark": "point",
      "encoding": {
        "x": {"field": "iter", "type": "quantitative", "scale": {"domain": [-350, 776.26], "nice": false, "zero": false},
          "axis": {"orient": "bottom", "offset": 0, "labels": false, "ticks": false, "domain": false,
            "title": "ANSYS Fluent 14.5 (3d, pbns, rke, transie", "titleFontSize": 33, "titleFontWeight": "normal", "titleColor": "#111111",
            "titleX": 1105, "titleY": -2, "titleAlign": "left", "titleBaseline": "alphabetic"}}
      }
    }
  ]
}
